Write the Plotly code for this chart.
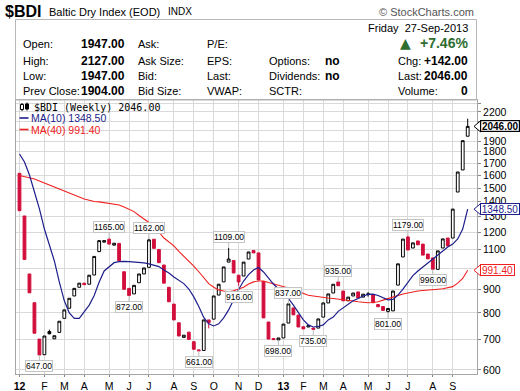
import numpy as np
import pandas as pd
import plotly.graph_objects as go

# ---------------- data (weekly bars) ----------------
week_dates = pd.date_range("2012-01-02", periods=91, freq="7D")

opens = [1615, 1303, 973, 842, 701, 648, 728, 702, 725, 778,
         819, 871, 910, 929, 924, 968, 1089, 1142, 1159, 1125,
         1135, 984, 905, 880, 931, 973, 1006, 1159, 1101, 1018,
         910, 836, 761, 707, 726, 692, 664, 662, 772, 775,
         875, 935, 1033, 1041, 967, 963, 1049, 1095, 1082, 937,
         764, 703, 698, 705, 760, 820, 791, 746, 745, 741,
         741, 783, 841, 884, 935, 893, 850, 871, 889, 866,
         877, 876, 834, 826, 806, 808, 920, 1060, 1172, 1109,
         1149, 1131, 1076, 1055, 996, 1109, 1166, 1166, 1470, 1643,
         1947]
highs = [1615, 1303, 973, 842, 701, 712, 735, 713, 767, 812,
         861, 905, 929, 929, 967, 1063, 1151, 1151, 1165, 1136,
         1135, 984, 905, 919, 973, 1003, 1162, 1159, 1101, 1018,
         910, 836, 761, 715, 726, 692, 664, 772, 772, 871,
         924, 1008, 1109, 1041, 967, 1033, 1087, 1095, 1082, 937,
         764, 703, 705, 756, 837, 820, 791, 746, 750, 741,
         776, 841, 880, 924, 935, 893, 866, 884, 889, 879,
         888, 876, 834, 826, 818, 893, 1024, 1160, 1179, 1138,
         1149, 1131, 1076, 1055, 1093, 1161, 1166, 1349, 1626, 1904,
         2127]
lows = [1338, 1047, 885, 722, 647, 648, 718, 702, 725, 778,
        819, 871, 910, 922, 924, 968, 1089, 1142, 1131, 1125,
        1040, 901, 872, 880, 931, 973, 1006, 1107, 1030, 929,
        846, 772, 712, 707, 700, 666, 661, 662, 740, 775,
        875, 935, 1033, 978, 916, 963, 1049, 1082, 944, 780,
        701, 699, 698, 705, 760, 792, 745, 738, 745, 735,
        741, 783, 841, 884, 917, 850, 850, 871, 862, 866,
        868, 842, 825, 810, 801, 808, 920, 1060, 1098, 1109,
        1127, 1070, 1050, 996, 996, 1109, 1120, 1166, 1470, 1643,
        1947]
closes = [1338, 1047, 885, 722, 647, 712, 720, 713, 767, 812,
          861, 905, 929, 922, 967, 1063, 1151, 1151, 1131, 1136,
          1040, 901, 873, 919, 973, 1003, 1155, 1107, 1030, 929,
          846, 772, 712, 715, 700, 666, 661, 772, 761, 871,
          924, 1008, 1049, 978, 935, 1033, 1087, 1082, 944, 780,
          701, 699, 705, 756, 837, 792, 745, 738, 750, 736,
          776, 841, 880, 924, 917, 850, 866, 884, 862, 879,
          880, 842, 825, 810, 818, 893, 1024, 1160, 1098, 1138,
          1127, 1070, 1050, 996, 1093, 1161, 1120, 1349, 1626, 1904,
          2046]
ma10 = [1780, 1710, 1602, 1470, 1350, 1220, 1126, 1039, 934, 850,
        800, 778, 778, 804, 832, 873, 934, 988, 1010, 1030,
        1035, 1037, 1035, 1034, 1032, 1029, 1024, 1018, 1010, 993,
        978, 958, 944, 927, 902, 867, 826, 782, 757, 749,
        757, 780, 812, 858, 900, 939, 970, 993, 1005, 983,
        951, 925, 902, 882, 860, 832, 802, 772, 753, 745,
        747, 753, 772, 783, 806, 820, 834, 850, 860, 871,
        878, 879, 873, 864, 854, 856, 875, 902, 934, 965,
        988, 1008, 1030, 1049, 1068, 1092, 1114, 1131, 1161, 1220,
        1348.5]
ma40 = [1598, 1590, 1580, 1570, 1554, 1538, 1522, 1503, 1488, 1473,
        1458, 1445, 1433, 1420, 1409, 1402, 1399, 1394, 1389, 1384,
        1377, 1363, 1346, 1332, 1306, 1283, 1261, 1232, 1202, 1166,
        1141, 1121, 1090, 1065, 1041, 1012, 984, 955, 927, 910,
        898, 893, 890, 894, 901, 910, 925, 935, 939, 939,
        932, 926, 922, 915, 907, 899, 891, 882, 874, 871,
        867, 864, 862, 860, 858, 856, 853, 849, 846, 843,
        842, 843, 846, 853, 860, 868, 874, 880, 884, 889,
        893, 895, 898, 900, 901, 903, 908, 913, 929, 951,
        991.4]

filled_black_idx = [6]
high_label_idx = [18, 26, 42, 54, 64, 78]
low_label_idx = [4, 22, 36, 44, 52, 59, 74, 83]

month_ticks = ["2012-01-02", "2012-02-06", "2012-03-05", "2012-04-02", "2012-05-07",
               "2012-06-04", "2012-07-02", "2012-08-06", "2012-09-03", "2012-10-01",
               "2012-11-05", "2012-12-03", "2013-01-07", "2013-02-04", "2013-03-04",
               "2013-04-01", "2013-05-06", "2013-06-03", "2013-07-01", "2013-08-05",
               "2013-09-02"]
month_labels = ["<b>12</b>", "F", "M", "A", "M", "J", "J", "A", "S", "O", "N", "D",
                "<b>13</b>", "F", "M", "A", "M", "J", "J", "A", "S"]
price_ticks = [600, 700, 800, 900, 1000, 1100, 1200, 1300, 1400, 1500, 1600,
               1700, 1800, 1900, 2000, 2100, 2200, 2300]
# 1000, 2000 and 2100 sit under the value tags in the original
price_labels = ["600", "700", "800", "900", "", "1100", "1200", "1300", "1400",
                "1500", "1600", "1700", "1800", "1900", "", "", "2200", ""]

symbol = "$BDI"
name = "Baltic Dry Index (EOD)"
exchange = "INDX"
date_text = "Friday\u00a0\u00a027-Sep-2013"

# ---------------- style ----------------
SANS = "Liberation Sans, Arial, sans-serif"
MONO = "DejaVu Sans Mono, monospace"
RED = "#d20f3c"
NAVY = "#1e1e8c"
MARED = "#f02020"
GREEN = "#2f6e2f"
GRID = "#d9d9d9"
FRAME = "#a6a6a6"

W, H = 520, 391
ML, MR, MT, MB = 16, 43, 100, 17
PW, PH = W - ML - MR, H - MT - MB


def px(X):
    return (X - ML) / PW


def py(Y):
    return (H - MB - Y) / PH


fig = go.Figure()

main_idx = [i for i in range(len(closes)) if i not in filled_black_idx]
fig.add_trace(go.Candlestick(
    x=[week_dates[i] for i in main_idx],
    open=[opens[i] for i in main_idx], high=[highs[i] for i in main_idx],
    low=[lows[i] for i in main_idx], close=[closes[i] for i in main_idx],
    increasing=dict(line=dict(color="black", width=1), fillcolor="white"),
    decreasing=dict(line=dict(color=RED, width=1), fillcolor=RED),
    whiskerwidth=0, showlegend=False))
fig.add_trace(go.Candlestick(
    x=[week_dates[i] for i in filled_black_idx],
    open=[opens[i] for i in filled_black_idx], high=[highs[i] for i in filled_black_idx],
    low=[lows[i] for i in filled_black_idx], close=[closes[i] for i in filled_black_idx],
    increasing=dict(line=dict(color="black", width=1), fillcolor="black"),
    decreasing=dict(line=dict(color="black", width=1), fillcolor="black"),
    whiskerwidth=0, showlegend=False))
fig.add_trace(go.Scatter(x=week_dates, y=ma40, mode="lines",
                         line=dict(color=MARED, width=1.1), showlegend=False))
fig.add_trace(go.Scatter(x=week_dates, y=ma10, mode="lines",
                         line=dict(color=NAVY, width=1.2), showlegend=False))

annotations = []
shapes = []


def txt(X, Y, s, size=11, color="black", bold=False, anchor="left", family=SANS):
    annotations.append(dict(
        x=px(X), y=py(Y), xref="paper", yref="paper", showarrow=False,
        text=f"<b>{s}</b>" if bold else s, xanchor=anchor, yanchor="middle",
        font=dict(family=family, size=size, color=color)))


# header
txt(3, 11, symbol, size=16, bold=True)
txt(47, 12, name, size=11)
txt(166, 12, exchange, size=10)
txt(476, 12, "\u00a9 StockCharts.com", size=11, color="#555555", anchor="right")
shapes.append(dict(type="rect", xref="paper", yref="paper", x0=px(15.5), x1=px(476.5),
                   y0=py(19.5), y1=py(100), line=dict(color="#b8b8b8", width=1),
                   fillcolor="rgba(0,0,0,0)", layer="above"))

prev_close = closes[-2]
chg = closes[-1] - prev_close
pct = chg / prev_close * 100
rows_y = [43.7, 61.0, 76.3, 91.2]
txt(470, 28.3, date_text, size=11, anchor="right")
txt(405.5, 43.5, "\u25B2", size=14, color=GREEN, anchor="center", family="DejaVu Sans")
txt(470, 43.5, f"+{pct:.2f}%", size=14, color=GREEN, bold=True, anchor="right")

col1 = [("Open:", opens[-1]), ("High:", highs[-1]), ("Low:", lows[-1]),
        ("Prev Close:", prev_close)]
for (lab, val), yy in zip(col1, rows_y):
    txt(21, yy, lab)
    txt(126.5, yy, f"{val:.2f}", size=12, bold=True, anchor="right")
for lab, yy in zip(["Ask:", "Ask Size:", "Bid:", "Bid Size:"], rows_y):
    txt(136, yy, lab)
for lab, yy in zip(["P/E:", "EPS:", "Last:", "VWAP:"], rows_y):
    txt(205, yy, lab)
for lab, val, yy in [("Options:", "no", rows_y[1]), ("Dividends:", "no", rows_y[2]),
                     ("SCTR:", "", rows_y[3])]:
    txt(267, yy, lab)
    if val:
        txt(323, yy, val, size=12, bold=True)
for lab, val, yy in [("Chg:", f"+{chg:.2f}", rows_y[1]),
                     ("Last:", f"{closes[-1]:.2f}", rows_y[2]),
                     ("Volume:", "0", rows_y[3])]:
    txt(396, yy, lab)
    txt(470, yy, val, size=12, bold=True, anchor="right")

# in-chart legend
txt(31.5, 107, f"{symbol} (Weekly) {closes[-1]:.2f}", size=10, family=MONO)
txt(29, 118, f"MA(10) {ma10[-1]:.2f}", size=10.5, color=NAVY)
txt(29, 129.5, f"MA(40) {ma40[-1]:.2f}", size=10.5, color=MARED)
for yy, col in [(118, NAVY), (129.5, MARED)]:
    shapes.append(dict(type="line", xref="paper", yref="paper", x0=px(19.5), x1=px(28.5),
                       y0=py(yy), y1=py(yy), line=dict(color=col, width=1.6), layer="above"))
# candle icon
shapes.append(dict(type="line", xref="paper", yref="paper", x0=px(22), x1=px(22),
                   y0=py(103), y1=py(111), line=dict(color="black", width=1), layer="above"))
shapes.append(dict(type="rect", xref="paper", yref="paper", x0=px(20.5), x1=px(23.5),
                   y0=py(104.5), y1=py(109.5), line=dict(color="black", width=1),
                   fillcolor="white", layer="above"))
shapes.append(dict(type="line", xref="paper", yref="paper", x0=px(27), x1=px(27),
                   y0=py(102.5), y1=py(110.5), line=dict(color="black", width=1), layer="above"))
shapes.append(dict(type="rect", xref="paper", yref="paper", x0=px(25.5), x1=px(28.5),
                   y0=py(104), y1=py(109), line=dict(color="black", width=1),
                   fillcolor="black", layer="above"))

# high / low labels
for i in high_label_idx:
    annotations.append(dict(x=week_dates[i], y=np.log10(highs[i]), xref="x", yref="y",
                            text=f"{highs[i]:.2f}", showarrow=True, arrowhead=0,
                            arrowcolor="#bdbdbd", arrowwidth=1, ax=0, ay=-11,
                            bgcolor="white", bordercolor="#c4c4c4", borderwidth=1,
                            borderpad=0, font=dict(family=SANS, size=8.5, color="black")))
for i in low_label_idx:
    annotations.append(dict(x=week_dates[i], y=np.log10(lows[i]), xref="x", yref="y",
                            text=f"{lows[i]:.2f}", showarrow=True, arrowhead=0,
                            arrowcolor="#bdbdbd", arrowwidth=1, ax=0, ay=11,
                            bgcolor="white", bordercolor="#c4c4c4", borderwidth=1,
                            borderpad=0, font=dict(family=SANS, size=8.5, color="black")))

# right-hand value tags (pointer + box)
for val, col, boxw, bold in [(closes[-1], "black", 38, True),
                             (ma10[-1], NAVY, 38, False),
                             (ma40[-1], MARED, 33, False)]:
    shapes.append(dict(type="path", xref="paper", yref="y", xsizemode="pixel",
                       ysizemode="pixel", xanchor=1, yanchor=val,
                       path="M 3.5 -5.5 L -3 0 L 3.5 5.5 Z",
                       fillcolor="white", line=dict(color=col, width=1),
                       layer="above"))
    annotations.append(dict(x=px(480), y=np.log10(val), xref="paper", yref="y",
                            text=f"<b>{val:.2f}</b>" if bold else f"{val:.2f}",
                            showarrow=False, xanchor="left", yanchor="middle",
                            width=boxw, height=10, align="center", valign="middle",
                            bgcolor="white", bordercolor=col,
                            borderwidth=1.2 if bold else 1, borderpad=0,
                            font=dict(family=SANS, size=10, color=col)))

fig.update_layout(
    width=W, height=H, margin=dict(l=ML, r=MR, t=MT, b=MB, pad=0),
    paper_bgcolor="white", plot_bgcolor="white", showlegend=False, boxgap=0.2,
    font=dict(family=SANS, size=11, color="black"), hovermode=False,
    annotations=annotations, shapes=shapes)
fig.update_xaxes(type="date", range=["2011-12-28 02:00", "2013-10-06 02:00"],
                 tickmode="array", tickvals=month_ticks, ticktext=month_labels,
                 showgrid=True, gridcolor=GRID, gridwidth=1, ticks="outside", ticklen=2,
                 tickcolor="#888888", showline=True, linecolor=FRAME, linewidth=1,
                 mirror=True, rangeslider=dict(visible=False), zeroline=False,
                 automargin=False,
                 tickfont=dict(family=SANS, size=10.5, color="black"))
fig.update_yaxes(type="log", side="right", range=[np.log10(588.0), np.log10(2336.6)],
                 tickmode="array", tickvals=price_ticks, ticktext=price_labels,
                 showgrid=True, gridcolor=GRID, gridwidth=1, ticks="outside", ticklen=3,
                 tickcolor="#888888", showline=True, linecolor=FRAME, linewidth=1,
                 mirror=True, zeroline=False, automargin=False,
                 tickfont=dict(family=SANS, size=10.5, color="black"))

fig.write_html("out.html",
               config={"displayModeBar": False},
               post_script="document.body.style.margin='0px';"
                           "document.body.style.overflow='hidden';")
